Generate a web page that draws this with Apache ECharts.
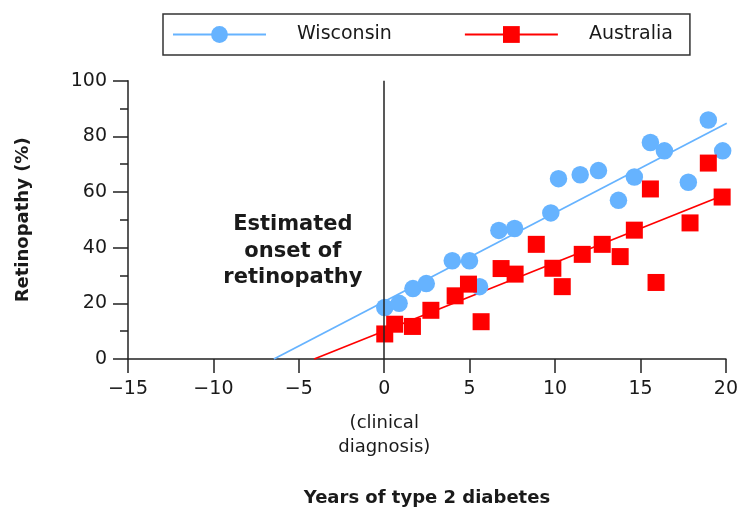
<!DOCTYPE html>
<html>
<head>
<meta charset="utf-8">
<script src="https://cdn.jsdelivr.net/npm/echarts@6/dist/echarts.min.js"></script>
<style>
html,body{margin:0;padding:0;background:#fff;}
#chart{width:741px;height:512px;}
</style>
</head>
<body>
<div id="chart"></div>
<script>
// ---- Data ----
const seriesNames = ['Wisconsin', 'Australia'];
const wisconsinPoints = [
  [0.03, 18.5], [0.87, 20.0], [1.68, 25.3], [2.46, 27.1], [3.98, 35.3],
  [4.99, 35.3], [5.58, 26.0], [6.71, 46.2], [7.63, 46.9], [9.75, 52.5],
  [10.2, 64.8], [11.47, 66.2], [12.54, 67.7], [13.71, 57.0], [14.64, 65.4],
  [15.58, 77.8], [16.4, 74.8], [17.8, 63.5], [18.97, 85.9], [19.81, 74.8]
];
const australiaPoints = [
  [0.03, 9.0], [0.61, 12.5], [1.65, 11.7], [2.73, 17.5], [4.15, 22.7],
  [4.93, 26.9], [5.67, 13.4], [6.84, 32.5], [7.66, 30.5], [8.9, 41.2],
  [9.87, 32.6], [10.42, 26.0], [11.59, 37.6], [12.76, 41.2], [13.81, 36.8],
  [14.64, 46.3], [15.58, 61.1], [15.91, 27.5], [17.9, 48.9], [18.97, 70.4],
  [19.78, 58.2]
];
const wisconsinTrend = [[-6.46, 0], [20.05, 84.7]];
const australiaTrend = [[-4.1, 0], [20, 59.2]];
const diagnosisYear = 0;
const xTicks = { min: -15, max: 20, step: 5 };
const yTicks = { min: 0, max: 100, step: 20 };
const xTitle = 'Years of type 2 diabetes';
const yTitle = 'Retinopathy (%)';
const onsetNote = ['Estimated', 'onset of', 'retinopathy'];
const onsetNoteAt = [-5.35, 38.7];
const diagnosisNote = ['(clinical', 'diagnosis)'];

const BLUE = '#66b3ff';
const RED = '#ff0000';
const INK = '#1a1a1a';
const FONT = 'DejaVu Sans';

const chart = echarts.init(document.getElementById('chart'), null, {renderer: 'canvas'});

const option = {
  backgroundColor: '#ffffff',
  animation: false,
  textStyle: { fontFamily: FONT },
  grid: { left: 128, right: 14.5, top: 80.7, bottom: 152, containLabel: false },
  legend: {
    left: 163, top: 14,
    data: seriesNames,
    itemWidth: 93, itemHeight: 21, itemGap: 72,
    padding: [11, 17, 11, 9],
    borderColor: '#333', borderWidth: 1.5,
    textStyle: { fontFamily: FONT, fontSize: 19, color: INK, padding: [0, 0, 0, 26] },
    selectedMode: false
  },
  xAxis: {
    type: 'value', min: xTicks.min, max: xTicks.max, interval: xTicks.step,
    name: xTitle, nameLocation: 'middle', nameGap: 130,
    nameTextStyle: { fontFamily: FONT, fontSize: 18, fontWeight: 'bold', color: INK },
    axisLine: { onZero: false, lineStyle: { color: '#222', width: 1.5 } },
    axisTick: { show: true, length: 14, lineStyle: { color: '#222', width: 1.5 } },
    splitLine: { show: false },
    axisLabel: { fontFamily: FONT, fontSize: 19, color: INK, margin: 21,
      formatter: v => (v < 0 ? '\u2212' + Math.abs(v) : String(v)) }
  },
  yAxis: {
    type: 'value', min: yTicks.min, max: yTicks.max, interval: yTicks.step,
    name: yTitle, nameLocation: 'middle', nameGap: 96, nameRotate: 90,
    nameTextStyle: { fontFamily: FONT, fontSize: 18, fontWeight: 'bold', color: INK },
    axisLine: { show: true, onZero: false, lineStyle: { color: '#222', width: 1.5 } },
    axisTick: { show: true, length: 15, lineStyle: { color: '#222', width: 1.5 } },
    minorTick: { show: true, splitNumber: 2, length: 8, lineStyle: { color: '#222', width: 1.5 } },
    splitLine: { show: false },
    axisLabel: { fontFamily: FONT, fontSize: 19, color: INK, margin: 21 }
  },
  series: [
    {
      name: seriesNames[0], type: 'line', data: wisconsinTrend,
      symbol: 'circle', showSymbol: false, z: 2,
      itemStyle: { color: BLUE }, lineStyle: { color: BLUE, width: 1.8 },
      markLine: {
        silent: true, symbol: ['none', 'none'], label: { show: false },
        lineStyle: { color: '#222', width: 1.5, type: 'solid' },
        data: [{ xAxis: diagnosisYear }]
      }
    },
    {
      name: seriesNames[1], type: 'line', data: australiaTrend,
      symbol: 'rect', showSymbol: false, z: 2,
      itemStyle: { color: RED }, lineStyle: { color: RED, width: 1.8 }
    },
    {
      name: seriesNames[0], type: 'scatter', data: wisconsinPoints,
      symbol: 'circle', symbolSize: 17.5, z: 3,
      itemStyle: { color: BLUE, opacity: 1 }
    },
    {
      name: seriesNames[1], type: 'scatter', data: australiaPoints,
      symbol: 'rect', symbolSize: 17, z: 4,
      itemStyle: { color: RED, opacity: 1 }
    }
  ]
};
chart.setOption(option);

// Annotations placed through the chart's own coordinate conversion
const notePx = chart.convertToPixel({ gridIndex: 0 }, onsetNoteAt);
const diagPx = chart.convertToPixel({ gridIndex: 0 }, [diagnosisYear, yTicks.min]);
chart.setOption({
  graphic: [
    {
      type: 'text', x: notePx[0], y: notePx[1], z: 10,
      style: {
        text: onsetNote.join('\n'), fill: INK,
        font: 'bold 21px "' + FONT + '"', lineHeight: 26.5,
        align: 'center', verticalAlign: 'middle'
      }
    },
    {
      type: 'text', x: diagPx[0], y: diagPx[1] + 52, z: 10,
      style: {
        text: diagnosisNote.join('\n'), fill: INK,
        font: '18px "' + FONT + '"', lineHeight: 24,
        align: 'center', verticalAlign: 'top'
      }
    }
  ]
});
</script>
</body>
</html>
